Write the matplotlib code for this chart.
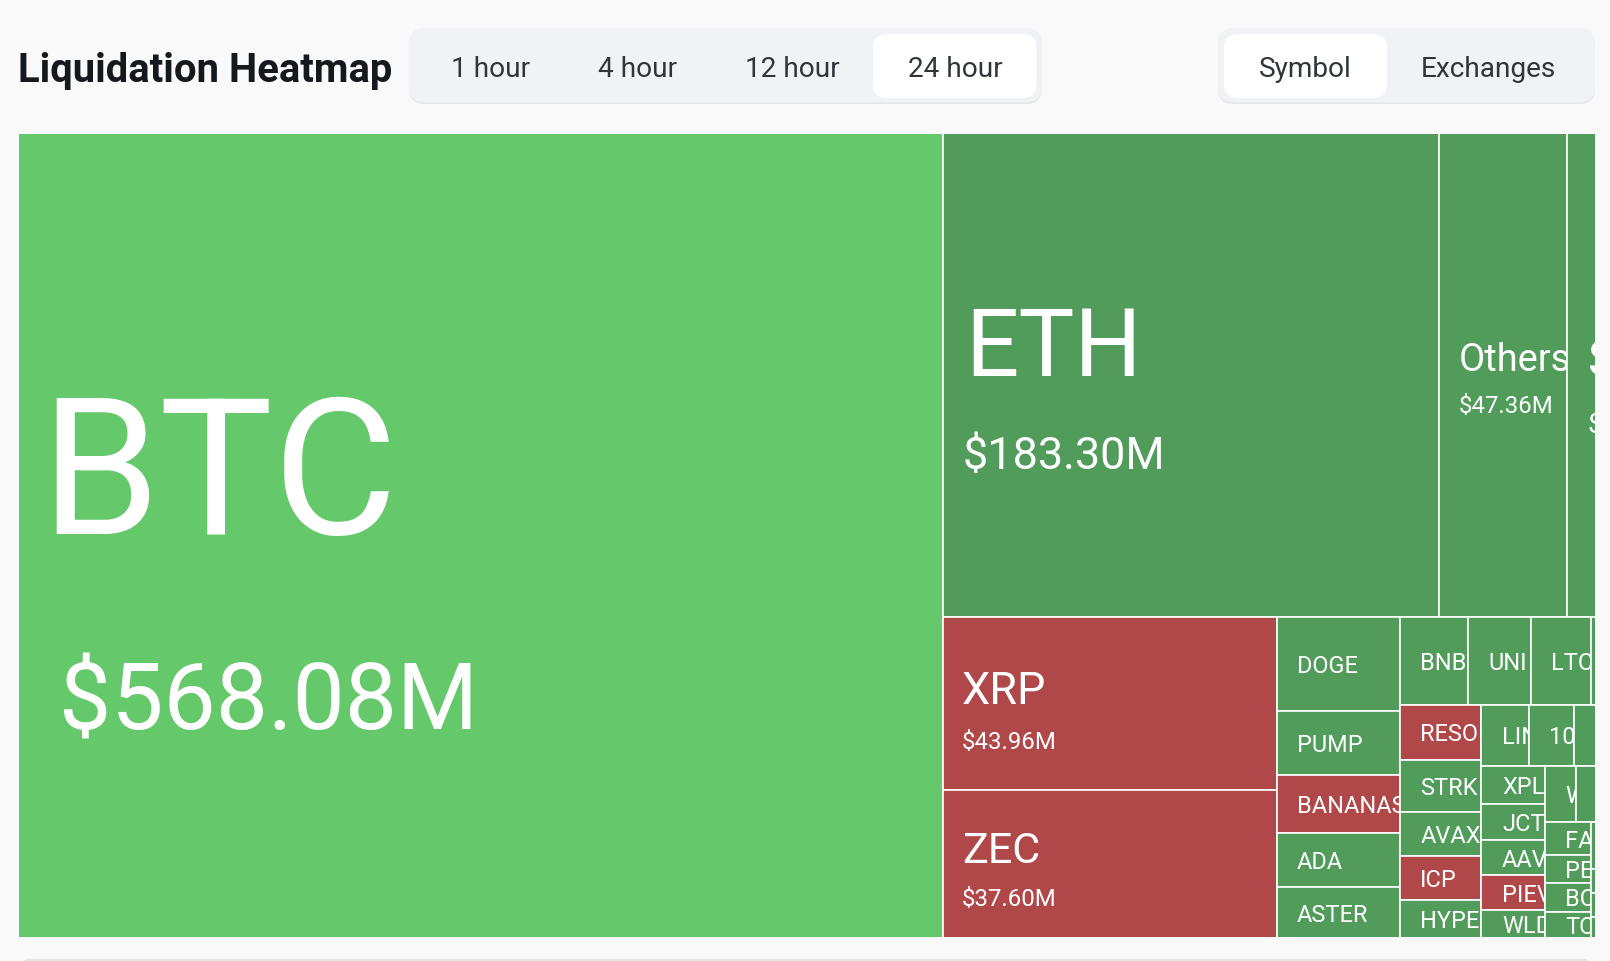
import matplotlib
matplotlib.use('Agg')
import matplotlib.pyplot as plt
from matplotlib.patches import Rectangle, FancyBboxPatch

big_names = ['BTC', 'ETH', 'Others', 'SOL', 'XRP', 'ZEC']
big_values = [568.08, 183.30, 47.36, 10.70, 43.96, 37.60]
col_doge = ['DOGE', 'PUMP', 'BANANAS31', 'ADA', 'ASTER']
col_doge_values = [8.78, 6.00, 5.51, 5.10, 4.75]
row_bnb = ['BNB', 'UNI', 'LTC', '_a']
row_bnb_values = [4.55, 4.21, 4.01, 0.33]
col_reso = ['RESOLV', 'STRK', 'AVAX', 'ICP', 'HYPE']
col_reso_values = [3.42, 3.25, 2.75, 2.75, 2.33]
row_link = ['LINK', '1000PEPE', '_b']
row_link_values = [2.20, 2.09, 1.02]
col_xpl = ['XPL', 'JCT', 'AAVE', 'PIEVERSE', 'WLD']
col_xpl_values = [1.84, 1.74, 1.71, 1.65, 1.36]
row_w = ['WLFI', '_c']
row_w_values = [1.33, 0.86]
col_fa = ['FARTCOIN', 'PENGU', 'BCH', 'TON']
col_fa_values = [1.16, 0.99, 1.00, 0.92]
col_last = ['_d', '_e', '_f', '_g']
col_last_values = [0.18, 0.09, 0.09, 0.08]

red_names = ['XRP', 'ZEC', 'BANANAS31', 'RESOLV', 'ICP', 'PIEVERSE']
periods = ['1 hour', '4 hour', '12 hour', '24 hour']
views = ['Symbol', 'Exchanges']

values = dict(zip(big_names, big_values))
for n, v in [(col_doge, col_doge_values), (row_bnb, row_bnb_values), (col_reso, col_reso_values),
             (row_link, row_link_values), (col_xpl, col_xpl_values), (row_w, row_w_values),
             (col_fa, col_fa_values), (col_last, col_last_values)]:
    values.update(zip(n, v))

# nested slices, direction flips on every level
tree = ['BTC', [['ETH', 'Others', 'SOL'],
                [['XRP', 'ZEC'], col_doge,
                 [row_bnb,
                  [col_reso,
                   [row_link,
                    [col_xpl,
                     [row_w,
                      [col_fa, col_last]]]]]]]]]

BG = '#f9f9f9'
BTC_GREEN = '#65c96b'
GREEN = '#529c5b'
RED = '#b0484a'
FONT = 'Roboto'
TAB_BG = '#f1f2f6'
TAB_TEXT = '#30353c'

# (name px, value px, name x pad, value x pad, name baseline shift, value baseline below the name)
label_styles = {
    'BTC': (191, 93, 22, 41, -2, 195),
    'ETH': (94, 45, 22, 20, 0, 93),
    'Others': (38, 24, 20, 20, -5, 42),
    'SOL': (50, 28, 21, 21, 0, 57),
    'XRP': (45, 24, 19, 19, -1, 45),
    'ZEC': (43, 24, 19, 19, -2, 43),
}


def px(size):
    return size * 0.72


def total(node):
    if isinstance(node, str):
        return values[node]
    return sum(total(c) for c in node)


def layout(node, x, y, w, h, horizontal, out):
    if isinstance(node, str):
        out.append((node, x, y, w, h))
        return
    s = total(node)
    for c in node:
        part = total(c) / s
        if horizontal:
            layout(c, x, y, w * part, h, False, out)
            x += w * part
        else:
            layout(c, x, y, w, h * part, True, out)
            y += h * part


def tab_group(ax, x0, x1, labels, text_x, active_x0, active_x1):
    ax.add_patch(FancyBboxPatch((x0, 31), x1 - x0, 74, boxstyle='round,pad=0,rounding_size=16',
                                fc='#e4e5e8', ec='none'))
    ax.add_patch(FancyBboxPatch((x0, 29), x1 - x0, 74.5, boxstyle='round,pad=0,rounding_size=16',
                                fc=TAB_BG, ec='none'))
    ax.add_patch(FancyBboxPatch((active_x0, 35), active_x1 - active_x0, 64, boxstyle='round,pad=0,rounding_size=14',
                                fc='white', ec='none'))
    for lab, tx in zip(labels, text_x):
        ax.text(tx, 77, lab, fontsize=px(28), family=FONT, color=TAB_TEXT, va='baseline', ha='center')


fig = plt.figure(figsize=(16.1, 9.62), dpi=100, facecolor=BG)
ax = fig.add_axes([0, 0, 1, 1])
ax.set_xlim(0, 1610)
ax.set_ylim(962, 0)
ax.axis('off')

ax.text(18, 82.3, 'Liquidation Heatmap', fontsize=px(40), family=FONT, fontweight='bold',
        color='#15181c', va='baseline', ha='left')

tab_group(ax, 409, 1042, periods, [490, 637, 792, 955], 873, 1036.5)
tab_group(ax, 1218, 1595, views, [1305.5, 1488], 1224, 1387)

# strip of the next card at the bottom edge
ax.add_patch(FancyBboxPatch((22, 960), 1568, 12, boxstyle='round,pad=0,rounding_size=6', fc='#e4e4e4', ec='none'))

# the white cell borders only show between cells, so the outer ones are pushed out of the clip
cells = []
layout(tree, 18.2, 133.9, 1577.6, 804.9, True, cells)
bounds = Rectangle((19, 134.7), 1576, 803.3, transform=ax.transData)

for name, x, y, w, h in cells:
    color = BTC_GREEN if name == 'BTC' else RED if name in red_names else GREEN
    rect = Rectangle((x, y), w, h, fc=color, ec='white', lw=1.2)
    ax.add_patch(rect)
    rect.set_clip_path(bounds)
    if name.startswith('_'):
        continue
    # labels stay inside their own cell, long names get cut like on the page
    if name in label_styles:
        name_px, val_px, pad, val_pad, shift, drop = label_styles[name]
        base = y + h / 2 + shift
        t1 = ax.text(x + pad, base, name, fontsize=px(name_px), family=FONT, color='white', va='baseline')
        t2 = ax.text(x + val_pad, base + drop, f'${values[name]:.2f}M', fontsize=px(val_px), family=FONT,
                     color='white', va='baseline')
        t1.set_clip_on(True)
        t1.set_clip_path(rect)
        t2.set_clip_on(True)
        t2.set_clip_path(rect)
    else:
        t1 = ax.text(x + 20.5, y + h / 2 + 8, name, fontsize=px(23.5), family=FONT, color='white', va='baseline')
        t1.set_clip_on(True)
        t1.set_clip_path(rect)

fig.savefig('out.png', dpi=100, facecolor=BG)
